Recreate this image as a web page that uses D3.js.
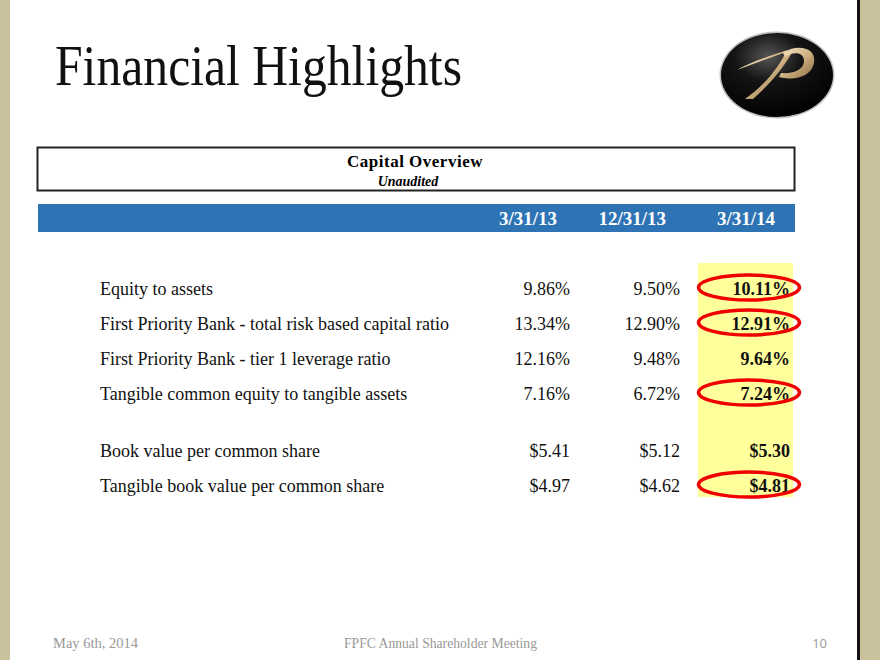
<!DOCTYPE html>
<html>
<head>
<meta charset="utf-8">
<script src="https://cdn.jsdelivr.net/npm/d3@7"></script>
<style>
html,body{margin:0;padding:0;background:#fff;}
svg{display:block;}
</style>
</head>
<body>
<svg id="chart" width="880" height="660"></svg>
<script>
// ---- data ----
const title = "Financial Highlights";
const tableTitle = "Capital Overview";
const tableSubtitle = "Unaudited";
const periods = ["3/31/13", "12/31/13", "3/31/14"];
const ratioLabels = [
  "Equity to assets",
  "First Priority Bank - total risk based capital ratio",
  "First Priority Bank - tier 1 leverage ratio",
  "Tangible common equity to tangible assets"
];
const ratioValues = [
  [9.86, 9.50, 10.11],
  [13.34, 12.90, 12.91],
  [12.16, 9.48, 9.64],
  [7.16, 6.72, 7.24]
];
const shareLabels = [
  "Book value per common share",
  "Tangible book value per common share"
];
const shareValues = [
  [5.41, 5.12, 5.30],
  [4.97, 4.62, 4.81]
];
const circledLatest = [true, true, false, true, false, true];
const footerLeft = "May 6th, 2014";
const footerCenter = "FPFC Annual Shareholder Meeting";
const footerPage = "10";

// ---- build rows ----
const rows = [];
ratioLabels.forEach((l, i) => rows.push({label: l, values: ratioValues[i], fmt: v => v.toFixed(2) + "%", slot: i}));
shareLabels.forEach((l, i) => rows.push({label: l, values: shareValues[i], fmt: v => "$" + v.toFixed(2), slot: ratioLabels.length + 0.63 + i}));
rows.forEach((r, i) => r.circled = circledLatest[i]);

const svg = d3.select("#chart");
const W = 880, H = 660;
const serif = "Liberation Serif, Times New Roman, serif";

// frame
svg.append("rect").attr("width", W).attr("height", H).attr("fill", "#fff");
svg.append("rect").attr("x", 0).attr("y", 0).attr("width", 10).attr("height", H).attr("fill", "#c9c19b");
svg.append("rect").attr("x", 860).attr("y", 0).attr("width", 20).attr("height", H).attr("fill", "#c9c19b");
svg.append("rect").attr("x", 857).attr("y", 0).attr("width", 3).attr("height", H).attr("fill", "#111");

// title
svg.append("text").attr("x", 55).attr("y", 85)
  .attr("font-family", serif).attr("font-size", 56)
  .attr("textLength", 407).attr("lengthAdjust", "spacingAndGlyphs")
  .attr("fill", "#111").text(title);

// logo
const defs = svg.append("defs");
const rg = defs.append("radialGradient").attr("id", "logoG").attr("cx", "42%").attr("cy", "28%").attr("r", "75%");
rg.append("stop").attr("offset", "0%").attr("stop-color", "#555");
rg.append("stop").attr("offset", "40%").attr("stop-color", "#141414");
rg.append("stop").attr("offset", "100%").attr("stop-color", "#000");
const gg = defs.append("linearGradient").attr("id", "goldG").attr("x1", "0").attr("y1", "0").attr("x2", "1").attr("y2", "1");
gg.append("stop").attr("offset", "0%").attr("stop-color", "#f6e9cd");
gg.append("stop").attr("offset", "50%").attr("stop-color", "#d1b283");
gg.append("stop").attr("offset", "100%").attr("stop-color", "#8a6a40");
const logo = svg.append("g").attr("transform", "translate(777,75)");
logo.append("ellipse").attr("rx", 57.5).attr("ry", 43.5).attr("fill", "#bdbdbd");
logo.append("ellipse").attr("rx", 56).attr("ry", 42).attr("fill", "url(#logoG)");
logo.append("path")
  .attr("d", "M-40,-5 C-25,-14 -6,-19 10,-25 C2,-8 -12,10 -32,24 L-24,24 C-8,10 6,-6 17,-26 Z")
  .attr("fill", "url(#goldG)");
logo.append("path")
  .attr("d", "M6,-22 C18,-31 40,-29 37,-12 C34,2 18,6 2,2 L4,-2 C18,-1 27,-6 27,-14 C27,-23 16,-24 8,-18 Z")
  .attr("fill", "url(#goldG)");

// header box
svg.append("rect").attr("x", 37.5).attr("y", 147.5).attr("width", 757).attr("height", 43)
  .attr("fill", "#fff").attr("stroke", "#222").attr("stroke-width", 2);
svg.append("text").attr("x", 415).attr("y", 167).attr("text-anchor", "middle")
  .attr("font-family", serif).attr("font-weight", "bold").attr("font-size", 17)
  .attr("letter-spacing", 0.5).attr("fill", "#000").text(tableTitle);
svg.append("text").attr("x", 408).attr("y", 186).attr("text-anchor", "middle")
  .attr("font-family", serif).attr("font-weight", "bold").attr("font-style", "italic").attr("font-size", 14)
  .attr("fill", "#000").text(tableSubtitle);

// blue header bar
svg.append("rect").attr("x", 38).attr("y", 204).attr("width", 757).attr("height", 28).attr("fill", "#2e74b5");

const xHead = d3.scalePoint().domain(periods).range([557, 775]);
svg.append("g").selectAll("text").data(periods).join("text")
  .attr("x", d => xHead(d)).attr("y", 225).attr("text-anchor", "end")
  .attr("font-family", serif).attr("font-weight", "bold").attr("font-size", 19)
  .attr("fill", "#fff").text(d => d);

// scales for body
const xVal = d3.scalePoint().domain(d3.range(periods.length)).range([570, 790]);
const y = d3.scaleLinear().domain([0, 1]).range([295, 330]);

// highlight column
const lastSlot = d3.max(rows, r => r.slot);
svg.append("rect").attr("x", 698).attr("y", y(0) - 32).attr("width", 95)
  .attr("height", y(lastSlot) - y(0) + 37).attr("fill", "#ffff9c");

// labels
svg.append("g").selectAll("text").data(rows).join("text")
  .attr("x", 100).attr("y", d => y(d.slot))
  .attr("font-family", serif).attr("font-size", 18).attr("fill", "#111")
  .text(d => d.label);

// values
const cells = [];
rows.forEach(r => r.values.forEach((v, j) => cells.push({r, v, j})));
svg.append("g").selectAll("text").data(cells).join("text")
  .attr("x", d => xVal(d.j)).attr("y", d => y(d.r.slot)).attr("text-anchor", "end")
  .attr("font-family", serif).attr("font-size", 18)
  .attr("font-weight", d => d.j === periods.length - 1 ? "bold" : "normal")
  .attr("fill", "#111")
  .text(d => d.r.fmt(d.v));

// red circles
svg.append("g").selectAll("ellipse").data(rows.filter(r => r.circled)).join("ellipse")
  .attr("cx", 749).attr("cy", d => y(d.slot) - 7.5).attr("rx", 50.5).attr("ry", 12.5)
  .attr("fill", "none").attr("stroke", "#f00000").attr("stroke-width", 3.5);

// footer
const footer = svg.append("g").attr("font-family", serif).attr("font-size", 15).attr("fill", "#999");
footer.append("text").attr("x", 53).attr("y", 648).attr("textLength", 85).attr("lengthAdjust", "spacingAndGlyphs").text(footerLeft);
footer.append("text").attr("x", 344).attr("y", 648).attr("textLength", 193).attr("lengthAdjust", "spacingAndGlyphs").text(footerCenter);
footer.append("text").attr("x", 827).attr("y", 648).attr("text-anchor", "end").attr("font-family", "Open Sans, sans-serif").attr("font-size", 13).text(footerPage);
</script>
</body>
</html>
